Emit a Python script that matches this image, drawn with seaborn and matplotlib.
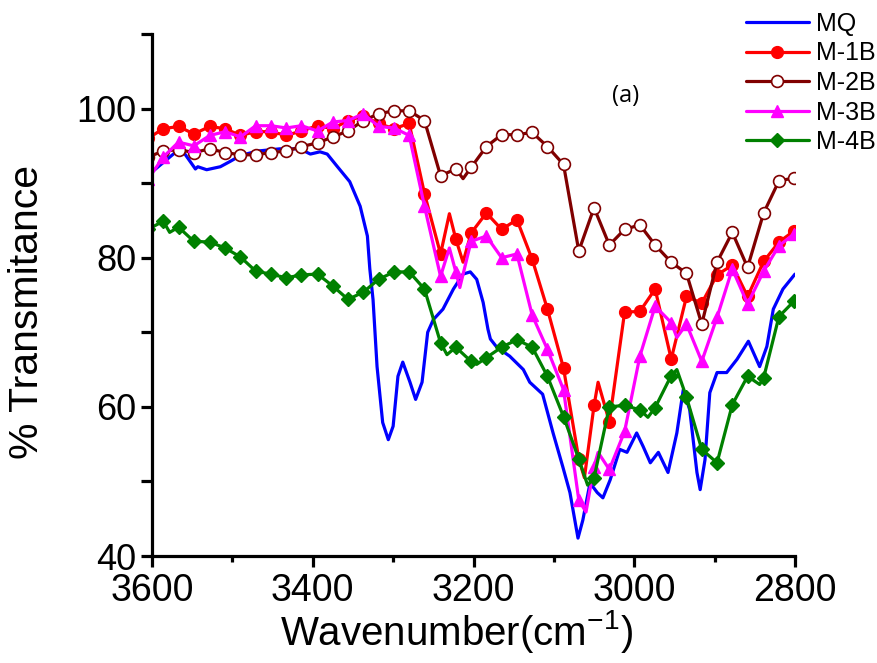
import numpy as np
import pandas as pd
import matplotlib
matplotlib.use("Agg")
import matplotlib.pyplot as plt
from matplotlib.ticker import MultipleLocator
import seaborn as sns

# ---------------- data ----------------
# MQ (continuous line, no markers)
mq_x = [3600, 3569, 3561, 3546, 3543, 3532, 3515, 3503, 3490, 3469, 3441, 3416, 3403,
        3391, 3382, 3370, 3354, 3341, 3332, 3329, 3325, 3320, 3313, 3306, 3300, 3294,
        3288, 3279, 3272, 3264, 3257, 3250, 3238, 3225, 3213, 3204, 3196, 3188, 3182,
        3179, 3171, 3155, 3138, 3130, 3114, 3101, 3089, 3080, 3070, 3064, 3055, 3046,
        3039, 3030, 3018, 3009, 2997, 2989, 2980, 2970, 2958, 2947, 2939, 2931, 2922,
        2918, 2912, 2906, 2897, 2885, 2872, 2858, 2844, 2835, 2827, 2815, 2800]
mq_y = [91.5, 94.3, 94.2, 91.9, 92.2, 91.8, 92.2, 92.9, 93.7, 94.3, 94.6, 94.6, 93.9,
        94.2, 93.9, 92.3, 90.2, 86.9, 82.9, 78.5, 74.4, 65.4, 57.9, 55.6, 57.4, 64.1,
        66.0, 63.3, 61.0, 63.3, 70.0, 71.7, 73.1, 75.8, 77.8, 78.1, 77.1, 74.0, 70.4,
        69.1, 68.0, 66.8, 65.0, 63.3, 61.7, 56.5, 52.0, 48.5, 42.4, 44.8, 49.8, 48.5,
        47.8, 50.2, 54.3, 53.9, 56.5, 54.7, 52.5, 53.9, 51.2, 56.5, 62.3, 59.6, 51.2,
        48.9, 52.9, 61.9, 64.6, 64.6, 66.4, 68.8, 65.4, 68.1, 73.1, 75.8, 77.8]

# wavenumbers of the marked points (shared by M-1B ... M-4B)
wn = [3605, 3586, 3567, 3548, 3528, 3509, 3490, 3471, 3452, 3433, 3414, 3394, 3375,
      3356, 3337, 3318, 3299, 3280, 3261, 3241, 3222, 3203, 3184, 3165, 3146, 3127,
      3108, 3088, 3069, 3050, 3031, 3012, 2993, 2974, 2954, 2935, 2916, 2897, 2878,
      2859, 2839, 2820, 2801]

m1b_y = [96.0, 97.3, 97.6, 96.6, 97.6, 97.3, 96.4, 96.9, 96.9, 96.4, 97.0, 97.7, 97.3,
         98.4, 99.0, 98.0, 97.3, 98.0, 88.6, 80.5, 82.5, 83.3, 86.0, 83.8, 85.1, 79.8,
         73.1, 65.2, 53.0, 60.2, 58.0, 72.7, 72.8, 75.8, 66.4, 74.8, 73.9, 77.7, 79.0,
         74.8, 79.5, 82.1, 83.6]
m1b_extra_x = [3230, 3213, 3062, 3045]
m1b_extra_y = [85.9, 79.4, 50.5, 63.3]

m2b_y = [93.5, 94.3, 94.5, 94.1, 94.6, 94.1, 93.8, 93.8, 94.1, 94.3, 94.9, 95.4, 96.2,
         97.0, 98.4, 99.3, 99.7, 99.7, 98.4, 91.0, 91.9, 92.1, 94.9, 96.5, 96.5, 96.8,
         94.9, 92.5, 80.9, 86.7, 81.7, 83.8, 84.4, 81.7, 79.4, 77.9, 71.1, 79.4, 83.4,
         78.7, 86.0, 90.3, 90.7]
m2b_extra_x = [3213]
m2b_extra_y = [90.6]

m3b_y = [90.5, 93.5, 95.5, 95.0, 96.4, 96.9, 96.2, 97.7, 97.7, 97.4, 97.7, 97.0, 98.2,
         98.4, 99.3, 97.6, 97.4, 96.4, 86.9, 77.5, 78.1, 82.2, 82.9, 80.0, 80.5, 72.3,
         67.7, 62.3, 47.5, 52.0, 51.6, 56.7, 66.8, 73.5, 71.3, 71.1, 66.1, 72.0, 78.5,
         73.8, 78.2, 81.6, 83.2]
m3b_extra_x = [3230, 3217, 3060, 3045, 2947]
m3b_extra_y = [81.3, 76.0, 45.9, 53.9, 69.3]

m4b_y = [83.8, 84.9, 84.1, 82.2, 82.1, 81.3, 80.1, 78.2, 77.8, 77.3, 77.7, 77.8, 76.2,
         74.4, 75.4, 77.1, 78.1, 78.1, 75.8, 68.6, 68.0, 66.1, 66.6, 68.0, 69.0, 68.0,
         64.1, 58.7, 53.0, 50.5, 60.0, 60.2, 59.6, 59.9, 64.2, 61.3, 54.3, 52.5, 60.3,
         64.1, 63.9, 72.1, 74.2]
m4b_extra_x = [3578, 3233, 3196, 3058, 2983, 2947, 2844]
m4b_extra_y = [83.4, 67.0, 65.7, 49.5, 58.6, 65.0, 63.0]

labels = ["MQ", "M-1B", "M-2B", "M-3B", "M-4B"]
colors = ["#0000FF", "#FF0000", "#800000", "#FF00FF", "#008000"]

x_ticks = [3600, 3400, 3200, 3000, 2800]
y_ticks = [40, 60, 80, 100]

# ---------------- style ----------------
sns.set_style("ticks")
base = "Liberation Sans"
plt.rcParams["font.family"] = [base, "DejaVu Sans"]
plt.rcParams["mathtext.fontset"] = "custom"
plt.rcParams["mathtext.rm"] = base
plt.rcParams["mathtext.it"] = base
plt.rcParams["mathtext.bf"] = base
for key in ["text.color", "axes.labelcolor", "xtick.color", "ytick.color",
            "xtick.labelcolor", "ytick.labelcolor"]:
    plt.rcParams[key] = "black"

fig = plt.figure(figsize=(8.77, 6.63), dpi=100)
ax = fig.add_axes([152 / 877, 1 - 556 / 663, (795 - 152) / 877, (556 - 34) / 663])


def merged(xm, ym, xe, ye):
    df = pd.DataFrame({"x": list(xm) + list(xe), "y": list(ym) + list(ye),
                       "m": [True] * len(xm) + [False] * len(xe)})
    df = df.sort_values("x", ascending=False).reset_index(drop=True)
    return df


lw = 2.3
df0 = pd.DataFrame({"x": mq_x, "y": mq_y})
sns.lineplot(data=df0, x="x", y="y", ax=ax, sort=False, estimator=None,
             color=colors[0], lw=lw, label=labels[0])

series = [
    (m1b_y, m1b_extra_x, m1b_extra_y, dict(marker="o", mfc=colors[1], mec=colors[1], ms=8.5, mew=1)),
    (m2b_y, m2b_extra_x, m2b_extra_y, dict(marker="o", mfc="white", mec=colors[2], ms=8.5, mew=1.2)),
    (m3b_y, m3b_extra_x, m3b_extra_y, dict(marker="^", mfc=colors[3], mec=colors[3], ms=9, mew=1)),
    (m4b_y, m4b_extra_x, m4b_extra_y, dict(marker="D", mfc=colors[4], mec=colors[4], ms=7.5, mew=1)),
]
for i, (ym, xe, ye, mk) in enumerate(series, start=1):
    d = merged(wn, ym, xe, ye)
    idx = list(d.index[d["m"]])
    sns.lineplot(data=d, x="x", y="y", ax=ax, sort=False, estimator=None,
                 color=colors[i], lw=lw, label=labels[i], markevery=idx,
                 marker=mk["marker"], markerfacecolor=mk["mfc"],
                 markeredgecolor=mk["mec"], markersize=mk["ms"],
                 markeredgewidth=mk["mew"])

ax.set_xlim(3600, 2800)
ax.set_ylim(40, 110)
ax.set_xticks(x_ticks)
ax.set_xticklabels([str(v) for v in x_ticks])
ax.xaxis.set_minor_locator(MultipleLocator(100))
ax.set_yticks(y_ticks)
ax.set_yticklabels([str(v) for v in y_ticks])
ax.yaxis.set_minor_locator(MultipleLocator(10))

for s in ["top", "right"]:
    ax.spines[s].set_visible(False)
for s in ["left", "bottom"]:
    ax.spines[s].set_linewidth(2.3)
    ax.spines[s].set_color("black")

ax.tick_params(axis="x", which="major", direction="out", length=8, width=2.3,
               labelsize=27, pad=4, color="black", labelcolor="black")
ax.tick_params(axis="x", which="minor", direction="out", length=4.5, width=2.3,
               color="black")
ax.tick_params(axis="y", which="both", direction="out", length=8, width=2.3,
               labelsize=26, pad=3, color="black", labelcolor="black")

ax.set_xlabel("Wavenumber(cm$^{-1}$)", fontsize=29, color="black")
ax.set_ylabel("% Transmitance", fontsize=29.5, color="black")
ax.xaxis.set_label_coords(0.474, -0.1)
ax.yaxis.set_label_coords(-0.165, 0.467)

ax.text(3011, 101.7, "(a)", fontsize=17, ha="center", va="center", color="black",
        family=["Open Sans", "Liberation Sans", "DejaVu Sans"])

leg = ax.legend(loc="upper left", bbox_to_anchor=(746 / 877, 1 - 12 / 663),
                bbox_transform=fig.transFigure, frameon=False, numpoints=1,
                prop={"family": ["Liberation Sans", "DejaVu Sans"], "size": 18},
                handlelength=2.5, handletextpad=0.3, labelspacing=0.22,
                borderpad=0, borderaxespad=0)
for h in leg.get_lines():
    h.set_linewidth(lw)
for t in leg.get_texts():
    t.set_color("black")

fig.savefig("out.png", dpi=100)
